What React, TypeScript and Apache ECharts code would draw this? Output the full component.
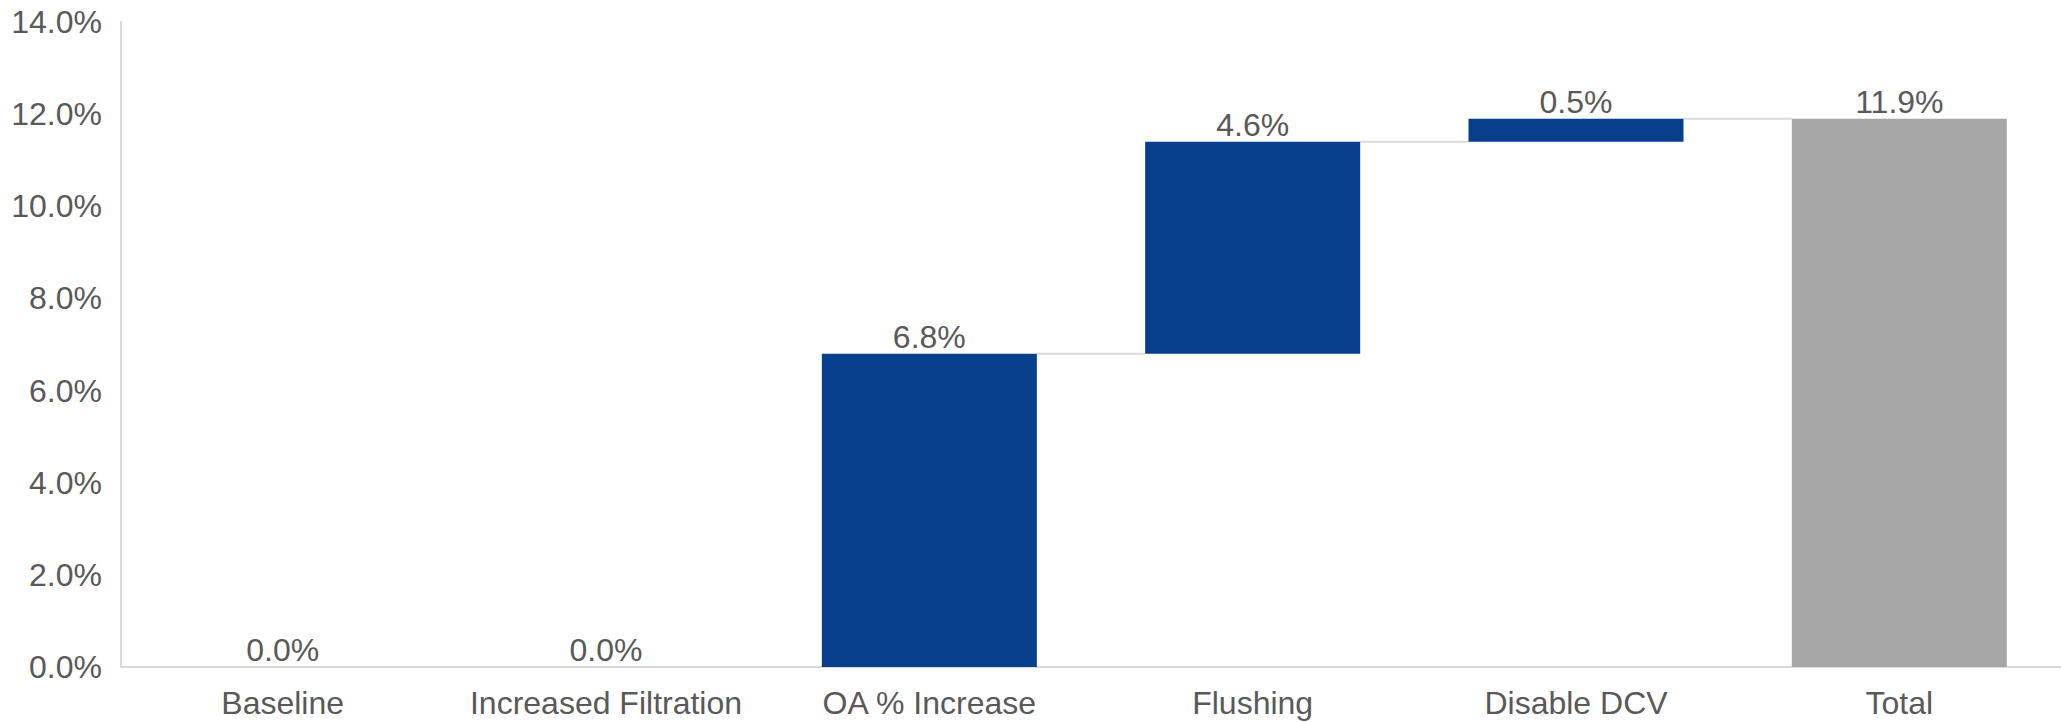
import React, { useEffect, useRef } from "react";
import * as echarts from "echarts";

const categories = ["Baseline", "Increased Filtration", "OA % Increase", "Flushing", "Disable DCV", "Total"];
const baseValues = [0, 0, 0, 6.8, 11.4, 0];
const stepValues = [0, 0, 6.8, 4.6, 0.5, 11.9];
const isTotal = [false, false, false, false, false, true];
const connectorLevels = [0, 0, 6.8, 11.4, 11.9];
const yTicks = [0, 2, 4, 6, 8, 10, 12, 14];

const BLUE = "#073F8D";
const GREY = "#A6A6A6";
const TEXT = "#595959";
const BAR_RATIO = 0.665;
const FS = 32;

export default function App() {
  const ref = useRef<HTMLDivElement>(null);
  useEffect(() => {
    document.body.style.margin = "0";
    const chart = echarts.init(ref.current!, null, { renderer: "svg" });
    chart.setOption({
      animation: false,
      textStyle: { fontFamily: "Liberation Sans, Arial, sans-serif" },
      grid: { left: 121, right: 0, top: 22, bottom: 55, containLabel: false },
      xAxis: {
        type: "category",
        data: categories,
        axisLine: { lineStyle: { color: "#D9D9D9", width: 2 } },
        axisTick: { show: false },
        axisLabel: { color: TEXT, fontSize: FS, margin: 20, interval: 0 },
      },
      yAxis: {
        type: "value",
        min: yTicks[0],
        max: yTicks[yTicks.length - 1],
        interval: 2,
        splitLine: { show: false },
        axisLine: { show: true, lineStyle: { color: "#D9D9D9", width: 2 } },
        axisTick: { show: false },
        axisLabel: {
          color: TEXT,
          fontSize: FS,
          margin: 19,
          formatter: (v: number) => v.toFixed(1) + "%",
        },
      },
      series: [
        {
          type: "custom",
          z: 1,
          silent: true,
          data: connectorLevels.map((v, i) => [i, v]),
          renderItem: (params: any, api: any) => {
            const i = api.value(0);
            const v = api.value(1);
            const p = api.coord([i, v]);
            const band = api.size([1, 0])[0];
            const half = (band * BAR_RATIO) / 2;
            return {
              type: "line",
              shape: { x1: p[0] + half, y1: p[1], x2: p[0] + band - half, y2: p[1] },
              style: { stroke: "#D9D9D9", lineWidth: 2 },
            };
          },
        },
        {
          type: "bar",
          stack: "w",
          barWidth: (BAR_RATIO * 100).toFixed(1) + "%",
          itemStyle: { color: "transparent" },
          emphasis: { disabled: true },
          silent: true,
          data: baseValues,
          z: 2,
        },
        {
          type: "bar",
          stack: "w",
          barWidth: (BAR_RATIO * 100).toFixed(1) + "%",
          z: 3,
          data: stepValues.map((v, i) => ({
            value: v,
            itemStyle: { color: isTotal[i] ? GREY : BLUE },
          })),
          label: {
            show: true,
            position: "top",
            distance: 1,
            color: TEXT,
            fontSize: FS,
            formatter: (p: any) => Number(p.value).toFixed(1) + "%",
          },
        },
      ],
    });
    return () => chart.dispose();
  }, []);
  return (
    <div
      ref={ref}
      style={{ position: "fixed", left: 0, top: 0, width: 2061, height: 722, background: "#fff" }}
    />
  );
}
